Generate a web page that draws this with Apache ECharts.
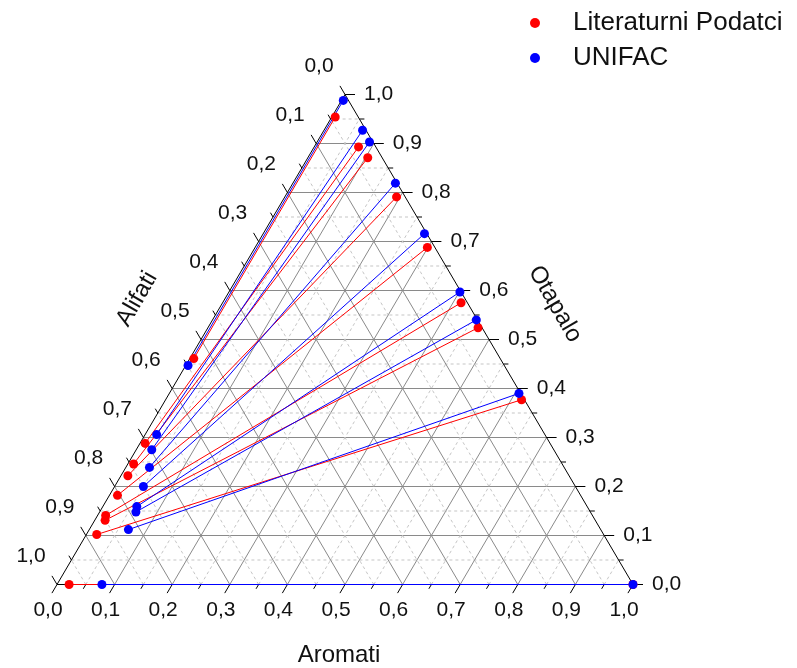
<!DOCTYPE html>
<html><head><meta charset="utf-8">
<script src="https://cdn.jsdelivr.net/npm/echarts@6/dist/echarts.min.js"></script>
<style>html,body{margin:0;padding:0;background:#fff}#chart{width:797px;height:668px}</style>
</head><body><div id="chart"></div>
<script>
// ternary tick values and labels
const majorTicks = [0, 0.1, 0.2, 0.3, 0.4, 0.5, 0.6, 0.7, 0.8, 0.9, 1.0];
const tickLabels = ['0,0','0,1','0,2','0,3','0,4','0,5','0,6','0,7','0,8','0,9','1,0'];
const minorTicks = [0.05, 0.15, 0.25, 0.35, 0.45, 0.55, 0.65, 0.75, 0.85, 0.95];
const gridMajor = [0.1, 0.2, 0.3, 0.4, 0.5, 0.6, 0.7, 0.8, 0.9];
const axisNames = ['Aromati', 'Alifati', 'Otapalo'];
const seriesNames = ['Literaturni Podatci', 'UNIFAC'];

// points as [alifati, aromati, otapalo]
const litRaffinate = [
  [0.532, 0.007, 0.461], [0.703, 0.009, 0.288], [0.744, 0.010, 0.246],
  [0.766, 0.012, 0.222], [0.804, 0.014, 0.182], [0.845, 0.014, 0.141],
  [0.851, 0.018, 0.131], [0.880, 0.018, 0.102], [0.979, 0.021, 0.000]
];
const litExtract = [
  [0.040, 0.006, 0.954], [0.030, 0.077, 0.893], [0.025, 0.104, 0.871],
  [0.015, 0.194, 0.791], [0.013, 0.299, 0.688], [0.011, 0.414, 0.575],
  [0.007, 0.469, 0.524], [0.005, 0.618, 0.377], [0.000, 1.000, 0.000]
];
const unifacRaffinate = [
  [0.549, 0.004, 0.447], [0.674, 0.020, 0.306], [0.698, 0.027, 0.275],
  [0.720, 0.041, 0.239], [0.750, 0.050, 0.200], [0.782, 0.059, 0.159],
  [0.789, 0.063, 0.148], [0.820, 0.068, 0.112], [0.922, 0.078, 0.000]
];
const unifacExtract = [
  [0.009, 0.003, 0.988], [0.006, 0.067, 0.927], [0.006, 0.091, 0.903],
  [0.003, 0.178, 0.819], [0.004, 0.280, 0.716], [0.002, 0.401, 0.597],
  [0.002, 0.458, 0.540], [0.003, 0.607, 0.390], [0.000, 1.000, 0.000]
];

// ternary -> cartesian data space (x = aromati + otapalo/2, y = otapalo)
function toXY(p) { return [p[1] + p[2] / 2, p[2]]; }
const vertices = [[1, 0, 0], [0, 1, 0], [0, 0, 1]].map(toXY);

function gridEnds(dir, v) {
  if (dir === 0) return [toXY([1 - v, 0, v]), toXY([0, 1 - v, v])];      // otapalo = v
  if (dir === 1) return [toXY([1 - v, v, 0]), toXY([0, v, 1 - v])];      // aromati = v
  return [toXY([v, 1 - v, 0]), toXY([v, 0, 1 - v])];                      // alifati = v
}

const gridData = [];
[0, 1, 2].forEach(d => {
  gridMajor.forEach(v => gridData.push([d, v, 1]));
  minorTicks.forEach(v => gridData.push([d, v, 0]));
});
const tickData = [];
[0, 1, 2].forEach(a => {
  majorTicks.forEach((v, i) => tickData.push([a, v, 1, i]));
  minorTicks.forEach(v => tickData.push([a, v, 0, -1]));
});

function unit(a, b) { const dx = b[0] - a[0], dy = b[1] - a[1]; const l = Math.hypot(dx, dy); return [dx / l, dy / l]; }

const chart = echarts.init(document.getElementById('chart'));
const FONT = '"Liberation Sans", Arial, sans-serif';

const option = {
  animation: false,
  backgroundColor: '#ffffff',
  grid: { left: 57, right: 164, top: 94.5, bottom: 83.5 },
  xAxis: { type: 'value', min: 0, max: 1, show: false },
  yAxis: { type: 'value', min: 0, max: 1, show: false },
  legend: {
    orient: 'vertical', left: 530, top: 10, padding: 0, itemGap: 9,
    itemWidth: 10, itemHeight: 10,
    data: [{ name: seriesNames[0], icon: 'circle' }, { name: seriesNames[1], icon: 'circle' }],
    textStyle: { fontFamily: FONT, fontSize: 26, color: '#111', lineHeight: 24, padding: [0, 0, 0, 28] }
  },
  graphic: [
    { type: 'text', x: 339, y: 655, style: { text: axisNames[0], font: '24px ' + FONT, fill: '#111', align: 'center', verticalAlign: 'middle' } },
    { type: 'text', x: 137, y: 299, rotation: Math.PI / 3, style: { text: axisNames[1], font: '24px ' + FONT, fill: '#111', align: 'center', verticalAlign: 'middle' } },
    { type: 'text', x: 555, y: 304, rotation: -Math.PI / 3, style: { text: axisNames[2], font: '24px ' + FONT, fill: '#111', align: 'center', verticalAlign: 'middle' } }
  ],
  series: [
    {
      type: 'custom', name: 'grid', clip: false, silent: true, z: 1,
      data: gridData,
      renderItem: function (params, api) {
        const d = api.value(0), v = api.value(1), major = api.value(2);
        const e = gridEnds(d, v);
        const a = api.coord(e[0]), b = api.coord(e[1]);
        return {
          type: 'line', shape: { x1: a[0], y1: a[1], x2: b[0], y2: b[1] },
          style: { stroke: major ? '#8a8a8a' : '#c6c6c6', lineWidth: 1, lineDash: major ? null : [3, 3] }
        };
      }
    },
    {
      type: 'custom', name: 'ticks', clip: false, silent: true, z: 2,
      data: tickData,
      renderItem: function (params, api) {
        const ax = api.value(0), v = api.value(1), major = api.value(2), li = api.value(3);
        const o = api.coord(vertices[0]), r = api.coord(vertices[1]), t = api.coord(vertices[2]);
        let base, dir, lx, ly, align;
        if (ax === 0) { base = api.coord(toXY([1 - v, v, 0])); dir = unit(t, o); lx = base[0] - 9; ly = base[1] + 26; align = 'center'; }
        else if (ax === 1) { base = api.coord(toXY([0, 1 - v, v])); dir = unit(o, r); lx = base[0] + 19; ly = base[1]; align = 'left'; }
        else { base = api.coord(toXY([v, 0, 1 - v])); dir = unit(r, t); lx = base[0] - 26; ly = base[1] - 28; align = 'center'; }
        const len = major ? 10 : 5;
        const children = [{
          type: 'line', shape: { x1: base[0], y1: base[1], x2: base[0] + dir[0] * len, y2: base[1] + dir[1] * len },
          style: { stroke: '#000', lineWidth: 1 }
        }];
        if (major && li >= 0) {
          children.push({ type: 'text', x: lx, y: ly, style: { text: tickLabels[li], font: '21px ' + FONT, fill: '#111', align: align, verticalAlign: 'middle' } });
        }
        return { type: 'group', children: children };
      }
    },
    {
      type: 'lines', name: 'frame', coordinateSystem: 'cartesian2d', silent: true, z: 2,
      lineStyle: { color: '#000', width: 1, opacity: 1 },
      data: [{ coords: [vertices[0], vertices[1]] }, { coords: [vertices[1], vertices[2]] }, { coords: [vertices[2], vertices[0]] }]
    },
    {
      type: 'scatter', name: seriesNames[0], z: 5, symbol: 'circle', symbolSize: 9,
      itemStyle: { color: '#ff0000', opacity: 1 },
      data: litRaffinate.concat(litExtract).map(toXY)
    },
    {
      type: 'scatter', name: seriesNames[1], z: 6, symbol: 'circle', symbolSize: 9,
      itemStyle: { color: '#0000ff', opacity: 1 },
      data: unifacRaffinate.concat(unifacExtract).map(toXY)
    },
    {
      type: 'lines', name: seriesNames[0], coordinateSystem: 'cartesian2d', z: 3,
      lineStyle: { color: '#ff0000', width: 1, opacity: 1 },
      data: litRaffinate.map((p, i) => ({ coords: [toXY(p), toXY(litExtract[i])] }))
    },
    {
      type: 'lines', name: seriesNames[1], coordinateSystem: 'cartesian2d', z: 4,
      lineStyle: { color: '#0000ff', width: 1, opacity: 1 },
      data: unifacRaffinate.map((p, i) => ({ coords: [toXY(p), toXY(unifacExtract[i])] }))
    }
  ]
};
chart.setOption(option);
</script>
</body></html>
